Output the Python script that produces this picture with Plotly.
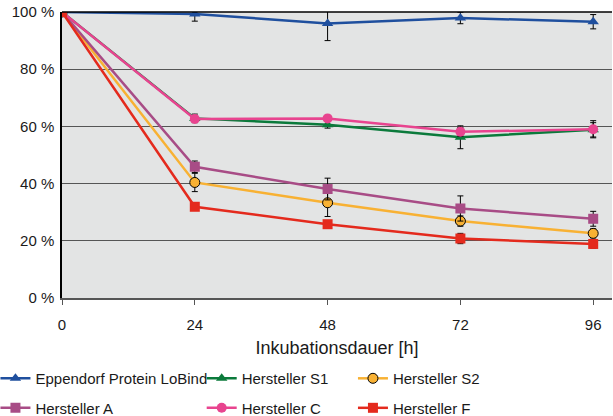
import plotly.graph_objects as go

hours = [0, 24, 48, 72, 96]
x_ticks = [0, 24, 48, 72, 96]
y_ticks = [0, 20, 40, 60, 80, 100]
y_labels = ["0 %", "20 %", "40 %", "60 %", "80 %", "100 %"]

names = ["Eppendorf Protein LoBind", "Hersteller S1", "Hersteller S2",
         "Hersteller A", "Hersteller C", "Hersteller F"]
eppendorf = [100, 99.3, 96.0, 97.9, 96.6]
eppendorf_err = [0, 2.5, 6.0, 2.0, 2.5]
s1 = [100, 62.8, 60.6, 56.2, 58.8]
s1_err = [0, 1.5, 1.2, 4.0, 2.5]
s2 = [100, 40.4, 33.3, 26.9, 22.6]
s2_err = [0, 3.2, 4.8, 1.8, 1.6]
a = [100, 45.9, 38.1, 31.3, 27.7]
a_err = [0, 2.0, 3.8, 4.4, 2.6]
c = [100, 62.6, 62.8, 58.1, 59.0]
c_err = [0, 0.8, 0.8, 1.5, 3.0]
f = [100, 31.9, 25.8, 20.8, 18.9]
f_err = [0, 1.0, 0.6, 1.8, 1.5]

colors = ["#1f4f9e", "#0b7a3b", "#f8b133", "#a84c86", "#e8448f", "#e42a1d"]
symbols = ["triangle-up", "triangle-up", "circle", "square", "circle", "square"]
series = [eppendorf, s1, s2, a, c, f]
errors = [eppendorf_err, s1_err, s2_err, a_err, c_err, f_err]
legends = ["legend", "legend2", "legend3", "legend", "legend2", "legend3"]

fig = go.Figure()
for i in range(6):
    marker = dict(symbol=symbols[i], size=10, color=colors[i])
    if i == 2:
        marker["line"] = dict(color="black", width=1)
    fig.add_trace(go.Scatter(
        x=hours, y=series[i], name=names[i], mode="lines+markers",
        line=dict(color=colors[i], width=2.5),
        marker=marker,
        error_y=dict(type="data", array=errors[i], color="black",
                     thickness=1, width=3),
        legend=legends[i], legendgroup=names[i],
    ))

leg_common = dict(orientation="v", font=dict(family="Liberation Sans, Arial, sans-serif",
                  size=15, color="#1a1a1a"), bgcolor="rgba(0,0,0,0)",
                  tracegroupgap=7, xref="paper", yref="paper",
                  xanchor="left", yanchor="top", y=-0.224)

fig.update_layout(
    width=613, height=416,
    margin=dict(l=62, r=1, t=12, b=118, autoexpand=False),
    paper_bgcolor="white", plot_bgcolor="#e3e4e4",
    font=dict(family="Liberation Sans, Arial, sans-serif", size=15, color="#1a1a1a"),
    showlegend=True,
    legend=dict(leg_common, x=-0.121),
    legend2=dict(leg_common, x=0.254),
    legend3=dict(leg_common, x=0.529),
    xaxis=dict(range=[0, 99.4], tickvals=x_ticks, ticks="outside", ticklen=5,
               tickcolor="#555", showgrid=False, zeroline=False, automargin=False,
               showline=True, linecolor="#555", linewidth=1.5,
               ticklabelstandoff=7,
               title=dict(text="Inkubationsdauer [h]", standoff=10),
               tickfont=dict(size=15)),
    yaxis=dict(range=[0, 100], tickvals=y_ticks, ticktext=y_labels,
               showgrid=True, gridcolor="#555", gridwidth=1.3, automargin=False,
               zeroline=False, showline=True, linecolor="black", linewidth=1.5,
               ticks="", ticklabelstandoff=3, ticklabeloverflow="allow",
               tickfont=dict(size=15)),
    shapes=[dict(type="line", xref="paper", yref="paper", x0=0, x1=1, y0=1, y1=1,
                 line=dict(color="black", width=1.5))],
)

fig.write_html("out.html", config={"displayModeBar": False},
               post_script="document.body.style.margin='0';")
